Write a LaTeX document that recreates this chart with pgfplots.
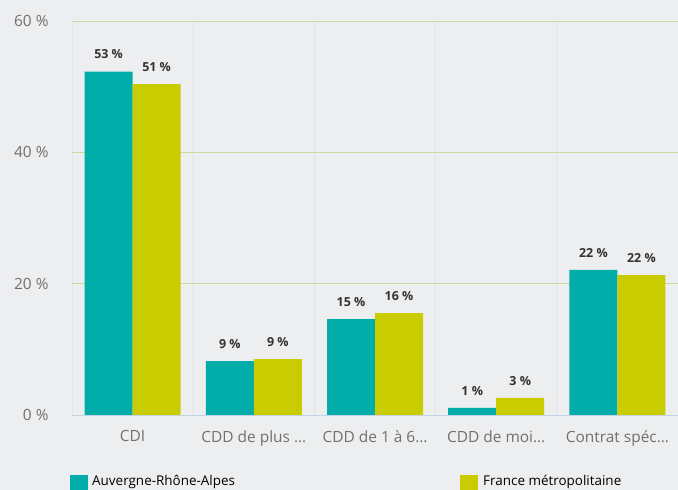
\documentclass[border=0pt]{standalone}
\usepackage{pgfplots}
\pgfplotsset{compat=1.18}
\usepackage{fontspec}
\setmainfont{Open Sans}
\definecolor{bgc}{HTML}{EDEEF0}
\definecolor{ara}{HTML}{00ADA8}
\definecolor{fra}{HTML}{C8CC00}
\definecolor{gridg}{HTML}{CCD9A0}
\definecolor{vgrid}{HTML}{E2E3E6}
\definecolor{zeroc}{HTML}{C5D3E6}
\definecolor{tickc}{HTML}{707070}
\begin{document}
\begin{tikzpicture}[x=1bp,y=1bp]
\fill[bgc] (0,0) rectangle (678,490);
\clip (0,0) rectangle (678,490);
\begin{axis}[
    at={(72bp,75bp)}, anchor=south west,
    scale only axis,
    width=606bp, height=394bp,
    ymin=0, ymax=60,
    xmin=-0.5, xmax=4.5,
    ytick={0,20,40,60},
    yticklabel={\pgfmathprintnumber{\tick}~\%},
    /pgf/number format/assume math mode=true,
    yticklabel style={font=\fontsize{15.5}{18}\selectfont, text=tickc, xshift=-20bp},
    xtick={0,1,2,3,4},
    xticklabels={CDI, CDD de plus \ldots, CDD de 1 à 6\ldots, CDD de moi\ldots, Contrat spéc\ldots},
    xticklabel style={font=\fontsize{15.5}{18}\selectfont, text=tickc, yshift=-12bp},
    minor xtick={-0.5,0.5,1.5,2.5,3.5,4.5},
    minor x grid style={vgrid, line width=0.75bp},
    xminorgrids=true,
    ymajorgrids=true,
    major grid style={gridg, line width=0.75bp},
    axis line style={draw=none},
    major tick length=0pt, minor tick length=0pt,
    ybar=0pt, bar width=48bp,
    nodes near coords,
    point meta=explicit symbolic,
    every node near coord/.append style={font=\bfseries\fontsize{12.5}{14}\selectfont, text=black!80, anchor=south, yshift=9bp},
    clip=false,
]
\addplot[fill=ara, draw=none] table[meta=lab] {
x y lab
0 52.3 {53~\%}
1 8.2 {9~\%}
2 14.6 {15~\%}
3 1.1 {1~\%}
4 22.1 {22~\%}
};
\addplot[fill=fra, draw=none] table[meta=lab] {
x y lab
0 50.4 {51~\%}
1 8.5 {9~\%}
2 15.5 {16~\%}
3 2.6 {3~\%}
4 21.3 {22~\%}
};
\draw[zeroc, line width=0.75bp] (axis cs:-0.5,0) -- (axis cs:4.5,0);
\end{axis}
\fill[ara] (70,0) rectangle (88,15);
\node[anchor=base west, font=\fontsize{13.5}{15}\selectfont, inner sep=0pt] at (92,4) {Auvergne-Rhône-Alpes};
\fill[fra] (460,0) rectangle (478,15);
\node[anchor=base west, font=\fontsize{13.5}{15}\selectfont, inner sep=0pt] at (483,4) {France métropolitaine};
\end{tikzpicture}
\end{document}
